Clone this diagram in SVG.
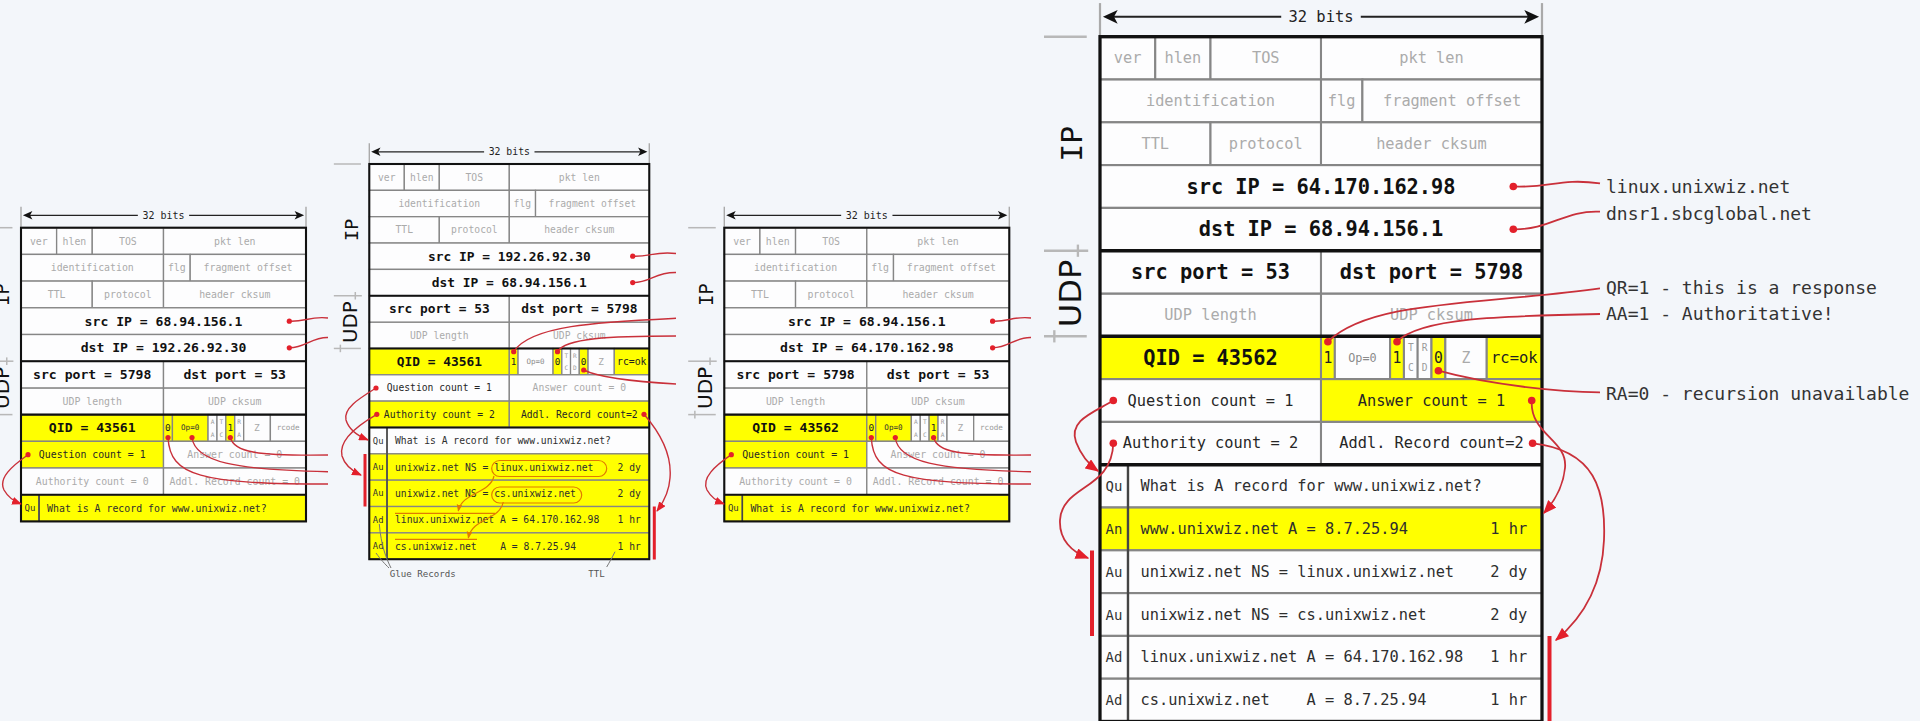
<svg xmlns="http://www.w3.org/2000/svg" width="1920" height="721" viewBox="0 0 1920 721">
<style>
text{font-family:"DejaVu Sans Mono","Liberation Mono",monospace}
.w{fill:#fdfdfe;stroke:#868686;stroke-width:1.4}
.y{fill:#ffff00;stroke:#868686;stroke-width:1.4}
.k{fill:none;stroke:#111;stroke-width:2.2}
.dv{stroke:#444;stroke-width:1.6}
.g{fill:#ababab;font-size:10.4px;text-anchor:middle;dominant-baseline:central}
.d{fill:#262626;font-size:10.4px;text-anchor:middle;dominant-baseline:central}
.l{fill:#2e2e2e;font-size:10.4px;dominant-baseline:central}
.r{fill:#2e2e2e;font-size:10.4px;text-anchor:end;dominant-baseline:central}
.b{fill:#111;font-size:13.8px;font-weight:bold;text-anchor:middle;dominant-baseline:central}
.lab{fill:#333;font-size:9.5px;text-anchor:middle;dominant-baseline:central}
.f{fill:#222;font-size:10px;text-anchor:middle;dominant-baseline:central}
.fo{fill:#333;font-size:8px;text-anchor:middle;dominant-baseline:central}
.fg{fill:#8a8a8a;font-size:8px;text-anchor:middle;dominant-baseline:central}
.tn{fill:#9a9a9a;font-size:6.5px;text-anchor:middle;dominant-baseline:central}
.z{fill:#aaa;font-size:10px;text-anchor:middle;dominant-baseline:central}
.rc{fill:#9a9a9a;font-size:8px;text-anchor:middle;dominant-baseline:central}
.ok{fill:#222;font-size:10.5px;text-anchor:middle;dominant-baseline:central}
.bits{fill:#222;font-size:10.5px;text-anchor:middle;dominant-baseline:central}
.tick{stroke:#aaa;stroke-width:1.5}
.arl{stroke:#222;stroke-width:1.3}
.side{stroke:#b8b8b8;stroke-width:1.6}
.sip{fill:#111;font-size:19.5px;text-anchor:middle;dominant-baseline:central}
.sudp{fill:#111;font-family:"DejaVu Sans",sans-serif;font-size:21px;text-anchor:middle;dominant-baseline:central}
.cn{fill:none;stroke:#c9303a;stroke-width:1.4}
.cnL{fill:none;stroke:#c9303a;stroke-width:1.8}
.dot{fill:#e3202b}
.bar{fill:#e3202b}
.or{fill:none;stroke:#e07b00;stroke-width:1.2}
.note{fill:#555;font-size:9.8px;dominant-baseline:central}
.gl{fill:none;stroke:#777;stroke-width:1}
.rt{fill:#333;font-size:18px}
</style>
<defs>
<marker id="ar" viewBox="0 0 10 8" refX="9" refY="4" markerWidth="10" markerHeight="8" markerUnits="userSpaceOnUse" orient="auto"><path d="M0,0 L10,4 L0,8 z" fill="#e3202b"/></marker>
<marker id="arL" viewBox="0 0 10 8" refX="9" refY="4" markerWidth="14" markerHeight="11" markerUnits="userSpaceOnUse" orient="auto"><path d="M0,0 L10,4 L0,8 z" fill="#e3202b"/></marker>
<marker id="ao" viewBox="0 0 10 8" refX="9" refY="4" markerWidth="7" markerHeight="6" markerUnits="userSpaceOnUse" orient="auto"><path d="M0,0 L10,4 L0,8 z" fill="#e07b00"/></marker>
<g id="hdr">
<line class="tick" x1="0" y1="-22" x2="0" y2="-1"/>
<line class="tick" x1="300" y1="-22" x2="300" y2="-1"/>
<line class="arl" x1="8" y1="-13" x2="123" y2="-13"/>
<line class="arl" x1="177" y1="-13" x2="292" y2="-13"/>
<path d="M2,-13 L12,-17.5 L9.5,-13 L12,-8.5 Z" fill="#111"/>
<path d="M298,-13 L288,-17.5 L290.5,-13 L288,-8.5 Z" fill="#111"/>
<text class="bits" x="150" y="-13">32 bits</text>
<line class="side" x1="-38" y1="0" x2="-9" y2="0"/>
<line class="side" x1="-38" y1="140" x2="-8" y2="140"/>
<line class="side" x1="-15" y1="136" x2="-15" y2="144"/>
<line class="side" x1="-38" y1="196" x2="-9" y2="196"/>
<line class="side" x1="-31" y1="192" x2="-31" y2="200"/>
<text class="sip" transform="translate(-19,70) rotate(-90)">IP</text>
<text class="sudp" transform="translate(-20,168) rotate(-90)">UDP</text>
<rect class="w" x="0" y="0" width="37.5" height="28"/>
<rect class="w" x="37.5" y="0" width="37.5" height="28"/>
<rect class="w" x="75" y="0" width="75" height="28"/>
<rect class="w" x="150" y="0" width="150" height="28"/>
<text class="g" x="18.75" y="14">ver</text>
<text class="g" x="56.25" y="14">hlen</text>
<text class="g" x="112.5" y="14">TOS</text>
<text class="g" x="225" y="14">pkt len</text>
<rect class="w" x="0" y="28" width="150" height="28"/>
<rect class="w" x="150" y="28" width="28.1" height="28"/>
<rect class="w" x="178.1" y="28" width="121.9" height="28"/>
<text class="g" x="75" y="42">identification</text>
<text class="g" x="164" y="42">flg</text>
<text class="g" x="239" y="42">fragment offset</text>
<rect class="w" x="0" y="56" width="75" height="28"/>
<rect class="w" x="75" y="56" width="75" height="28"/>
<rect class="w" x="150" y="56" width="150" height="28"/>
<text class="g" x="37.5" y="70">TTL</text>
<text class="g" x="112.5" y="70">protocol</text>
<text class="g" x="225" y="70">header cksum</text>
<rect class="w" x="0" y="168" width="150" height="28"/>
<rect class="w" x="150" y="168" width="150" height="28"/>
<text class="g" x="75" y="182">UDP length</text>
<text class="g" x="225" y="182">UDP cksum</text>
</g>
</defs>
<rect x="0" y="0" width="1920" height="721" fill="#f3f6fa"/>

<g id="pkt1" transform="translate(21,227.7) scale(0.95,0.9536)">
<use href="#hdr"/>
<rect class="w" x="0" y="84" width="300" height="28"/><text class="b" x="150" y="98">src IP = 68.94.156.1</text>
<rect class="w" x="0" y="112" width="300" height="28"/><text class="b" x="150" y="126">dst IP = 192.26.92.30</text>
<rect class="w" x="0" y="140" width="150" height="28"/><rect class="w" x="150" y="140" width="150" height="28"/>
<text class="b" x="75" y="154">src port = 5798</text><text class="b" x="225" y="154">dst port = 53</text>
<rect class="y" x="0" y="196" width="150" height="28"/><text class="b" x="75" y="210">QID = 43561</text>
<rect class="y" x="150" y="196" width="9.4" height="28"/><text class="f" x="154.7" y="210">0</text>
<rect class="y" x="159.4" y="196" width="37.5" height="28"/><text class="fo" x="178.1" y="210">Op=0</text>
<rect class="w" x="196.9" y="196" width="9.4" height="28"/><text class="tn" x="201.6" y="203.5">A</text><text class="tn" x="201.6" y="216.5">A</text>
<rect class="w" x="206.3" y="196" width="9.4" height="28"/><text class="tn" x="211" y="203.5">T</text><text class="tn" x="211" y="216.5">C</text>
<rect class="y" x="215.6" y="196" width="9.4" height="28"/><text class="f" x="220.3" y="210">1</text>
<rect class="w" x="225" y="196" width="9.4" height="28"/><text class="tn" x="229.7" y="203.5">R</text><text class="tn" x="229.7" y="216.5">A</text>
<rect class="w" x="234.4" y="196" width="28.1" height="28"/><text class="z" x="248.4" y="210">Z</text>
<rect class="w" x="262.5" y="196" width="37.5" height="28"/><text class="rc" x="281.2" y="210">rcode</text>
<rect class="y" x="0" y="224" width="150" height="28"/><text class="d" x="75" y="238">Question count = 1</text>
<rect class="w" x="150" y="224" width="150" height="28"/><text class="g" x="225" y="238">Answer count = 0</text>
<rect class="w" x="0" y="252" width="150" height="28"/><text class="g" x="75" y="266">Authority count = 0</text>
<rect class="w" x="150" y="252" width="150" height="28"/><text class="g" x="225" y="266">Addl. Record count = 0</text>
<rect class="y" x="0" y="280" width="19" height="28"/><text class="lab" x="9.5" y="294">Qu</text>
<rect class="y" x="19" y="280" width="281" height="28"/><text class="l" x="27.5" y="294">What is A record for www.unixwiz.net?</text>
<line class="dv" x1="19" y1="280" x2="19" y2="308"/>
<path class="k" d="M0,140H300M0,196H300M0,280H300"/>
<rect class="k" x="0" y="0" width="300" height="308"/>
</g>

<g id="pkt2" transform="translate(369.3,164) scale(0.9333,0.941)">
<use href="#hdr"/>
<rect class="w" x="0" y="84" width="300" height="28"/><text class="b" x="150" y="98">src IP = 192.26.92.30</text>
<rect class="w" x="0" y="112" width="300" height="28"/><text class="b" x="150" y="126">dst IP = 68.94.156.1</text>
<rect class="w" x="0" y="140" width="150" height="28"/><rect class="w" x="150" y="140" width="150" height="28"/>
<text class="b" x="75" y="154">src port = 53</text><text class="b" x="225" y="154">dst port = 5798</text>
<rect class="y" x="0" y="196" width="150" height="28"/><text class="b" x="75" y="210">QID = 43561</text>
<rect class="y" x="150" y="196" width="9.4" height="28"/><text class="f" x="154.7" y="210">1</text>
<rect class="w" x="159.4" y="196" width="37.5" height="28"/><text class="fg" x="178.1" y="210">Op=0</text>
<rect class="y" x="196.9" y="196" width="9.4" height="28"/><text class="f" x="201.6" y="210">0</text>
<rect class="w" x="206.3" y="196" width="9.4" height="28"/><text class="tn" x="211" y="203.5">T</text><text class="tn" x="211" y="216.5">C</text>
<rect class="w" x="215.6" y="196" width="9.4" height="28"/><text class="tn" x="220.3" y="203.5">R</text><text class="tn" x="220.3" y="216.5">D</text>
<rect class="y" x="225" y="196" width="9.4" height="28"/><text class="f" x="229.7" y="210">0</text>
<rect class="w" x="234.4" y="196" width="28.1" height="28"/><text class="z" x="248.4" y="210">Z</text>
<rect class="y" x="262.5" y="196" width="37.5" height="28"/><text class="ok" x="281.2" y="210">rc=ok</text>
<rect class="w" x="0" y="224" width="150" height="28"/><text class="d" x="75" y="238">Question count = 1</text>
<rect class="w" x="150" y="224" width="150" height="28"/><text class="g" x="225" y="238">Answer count = 0</text>
<rect class="y" x="0" y="252" width="150" height="28"/><text class="d" x="75" y="266">Authority count = 2</text>
<rect class="y" x="150" y="252" width="150" height="28"/><text class="d" x="225" y="266">Addl. Record count=2</text>
<rect class="w" x="0" y="280" width="19" height="28"/><text class="lab" x="9.5" y="294">Qu</text>
<rect class="w" x="19" y="280" width="281" height="28"/><text class="l" x="27.5" y="294">What is A record for www.unixwiz.net?</text>
<rect class="y" x="0" y="308" width="19" height="28"/><text class="lab" x="9.5" y="322">Au</text>
<rect class="y" x="19" y="308" width="281" height="28"/><text class="l" x="27.5" y="322">unixwiz.net NS = linux.unixwiz.net</text><text class="r" x="291" y="322">2 dy</text>
<rect class="y" x="0" y="336" width="19" height="28"/><text class="lab" x="9.5" y="350">Au</text>
<rect class="y" x="19" y="336" width="281" height="28"/><text class="l" x="27.5" y="350">unixwiz.net NS = cs.unixwiz.net</text><text class="r" x="291" y="350">2 dy</text>
<rect class="y" x="0" y="364" width="19" height="28"/><text class="lab" x="9.5" y="378">Ad</text>
<rect class="y" x="19" y="364" width="281" height="28"/><text class="l" x="27.5" y="378">linux.unixwiz.net A = 64.170.162.98</text><text class="r" x="291" y="378">1 hr</text>
<rect class="y" x="0" y="392" width="19" height="28"/><text class="lab" x="9.5" y="406">Ad</text>
<rect class="y" x="19" y="392" width="281" height="28"/><text class="l" x="27.5" y="406">cs.unixwiz.net</text><text class="l" x="140.2" y="406">A = 8.7.25.94</text><text class="r" x="291" y="406">1 hr</text>
<line class="dv" x1="19" y1="280" x2="19" y2="420"/>
<path class="k" d="M0,140H300M0,196H300M0,280H300"/>
<rect class="k" x="0" y="0" width="300" height="420"/>
<text class="note" x="22" y="435">Glue Records</text>
<text class="note" x="234.7" y="435">TTL</text>
</g>

<g id="pkt3" transform="translate(724.3,227.7) scale(0.95,0.9536)">
<use href="#hdr"/>
<rect class="w" x="0" y="84" width="300" height="28"/><text class="b" x="150" y="98">src IP = 68.94.156.1</text>
<rect class="w" x="0" y="112" width="300" height="28"/><text class="b" x="150" y="126">dst IP = 64.170.162.98</text>
<rect class="w" x="0" y="140" width="150" height="28"/><rect class="w" x="150" y="140" width="150" height="28"/>
<text class="b" x="75" y="154">src port = 5798</text><text class="b" x="225" y="154">dst port = 53</text>
<rect class="y" x="0" y="196" width="150" height="28"/><text class="b" x="75" y="210">QID = 43562</text>
<rect class="y" x="150" y="196" width="9.4" height="28"/><text class="f" x="154.7" y="210">0</text>
<rect class="y" x="159.4" y="196" width="37.5" height="28"/><text class="fo" x="178.1" y="210">Op=0</text>
<rect class="w" x="196.9" y="196" width="9.4" height="28"/><text class="tn" x="201.6" y="203.5">A</text><text class="tn" x="201.6" y="216.5">A</text>
<rect class="w" x="206.3" y="196" width="9.4" height="28"/><text class="tn" x="211" y="203.5">T</text><text class="tn" x="211" y="216.5">C</text>
<rect class="y" x="215.6" y="196" width="9.4" height="28"/><text class="f" x="220.3" y="210">1</text>
<rect class="w" x="225" y="196" width="9.4" height="28"/><text class="tn" x="229.7" y="203.5">R</text><text class="tn" x="229.7" y="216.5">A</text>
<rect class="w" x="234.4" y="196" width="28.1" height="28"/><text class="z" x="248.4" y="210">Z</text>
<rect class="w" x="262.5" y="196" width="37.5" height="28"/><text class="rc" x="281.2" y="210">rcode</text>
<rect class="y" x="0" y="224" width="150" height="28"/><text class="d" x="75" y="238">Question count = 1</text>
<rect class="w" x="150" y="224" width="150" height="28"/><text class="g" x="225" y="238">Answer count = 0</text>
<rect class="w" x="0" y="252" width="150" height="28"/><text class="g" x="75" y="266">Authority count = 0</text>
<rect class="w" x="150" y="252" width="150" height="28"/><text class="g" x="225" y="266">Addl. Record count = 0</text>
<rect class="y" x="0" y="280" width="19" height="28"/><text class="lab" x="9.5" y="294">Qu</text>
<rect class="y" x="19" y="280" width="281" height="28"/><text class="l" x="27.5" y="294">What is A record for www.unixwiz.net?</text>
<line class="dv" x1="19" y1="280" x2="19" y2="308"/>
<path class="k" d="M0,140H300M0,196H300M0,280H300"/>
<rect class="k" x="0" y="0" width="300" height="308"/>
</g>

<g id="pkt4" transform="translate(1100,36.7) scale(1.4733,1.5286)">
<use href="#hdr"/>
<rect class="w" x="0" y="84" width="300" height="28"/><text class="b" x="150" y="98">src IP = 64.170.162.98</text>
<rect class="w" x="0" y="112" width="300" height="28"/><text class="b" x="150" y="126">dst IP = 68.94.156.1</text>
<rect class="w" x="0" y="140" width="150" height="28"/><rect class="w" x="150" y="140" width="150" height="28"/>
<text class="b" x="75" y="154">src port = 53</text><text class="b" x="225" y="154">dst port = 5798</text>
<rect class="y" x="0" y="196" width="150" height="28"/><text class="b" x="75" y="210">QID = 43562</text>
<rect class="y" x="150" y="196" width="9.4" height="28"/><text class="f" x="154.7" y="210">1</text>
<rect class="w" x="159.4" y="196" width="37.5" height="28"/><text class="fg" x="178.1" y="210">Op=0</text>
<rect class="y" x="196.9" y="196" width="9.4" height="28"/><text class="f" x="201.6" y="210">1</text>
<rect class="w" x="206.3" y="196" width="9.4" height="28"/><text class="tn" x="211" y="203.5">T</text><text class="tn" x="211" y="216.5">C</text>
<rect class="w" x="215.6" y="196" width="9.4" height="28"/><text class="tn" x="220.3" y="203.5">R</text><text class="tn" x="220.3" y="216.5">D</text>
<rect class="y" x="225" y="196" width="9.4" height="28"/><text class="f" x="229.7" y="210">0</text>
<rect class="w" x="234.4" y="196" width="28.1" height="28"/><text class="z" x="248.4" y="210">Z</text>
<rect class="y" x="262.5" y="196" width="37.5" height="28"/><text class="ok" x="281.2" y="210">rc=ok</text>
<rect class="w" x="0" y="224" width="150" height="28"/><text class="d" x="75" y="238">Question count = 1</text>
<rect class="y" x="150" y="224" width="150" height="28"/><text class="d" x="225" y="238">Answer count = 1</text>
<rect class="w" x="0" y="252" width="150" height="28"/><text class="d" x="75" y="266">Authority count = 2</text>
<rect class="w" x="150" y="252" width="150" height="28"/><text class="d" x="225" y="266">Addl. Record count=2</text>
<rect class="w" x="0" y="280" width="19" height="28"/><text class="lab" x="9.5" y="294">Qu</text>
<rect class="w" x="19" y="280" width="281" height="28"/><text class="l" x="27.5" y="294">What is A record for www.unixwiz.net?</text>
<rect class="y" x="0" y="308" width="19" height="28"/><text class="lab" x="9.5" y="322">An</text>
<rect class="y" x="19" y="308" width="281" height="28"/><text class="l" x="27.5" y="322">www.unixwiz.net A = 8.7.25.94</text><text class="r" x="290" y="322">1 hr</text>
<rect class="w" x="0" y="336" width="19" height="28"/><text class="lab" x="9.5" y="350">Au</text>
<rect class="w" x="19" y="336" width="281" height="28"/><text class="l" x="27.5" y="350">unixwiz.net NS = linux.unixwiz.net</text><text class="r" x="290" y="350">2 dy</text>
<rect class="w" x="0" y="364" width="19" height="28"/><text class="lab" x="9.5" y="378">Au</text>
<rect class="w" x="19" y="364" width="281" height="28"/><text class="l" x="27.5" y="378">unixwiz.net NS = cs.unixwiz.net</text><text class="r" x="290" y="378">2 dy</text>
<rect class="w" x="0" y="392" width="19" height="28"/><text class="lab" x="9.5" y="406">Ad</text>
<rect class="w" x="19" y="392" width="281" height="28"/><text class="l" x="27.5" y="406">linux.unixwiz.net A = 64.170.162.98</text><text class="r" x="290" y="406">1 hr</text>
<rect class="w" x="0" y="420" width="19" height="28"/><text class="lab" x="9.5" y="434">Ad</text>
<rect class="w" x="19" y="420" width="281" height="28"/><text class="l" x="27.5" y="434">cs.unixwiz.net</text><text class="l" x="140.2" y="434">A = 8.7.25.94</text><text class="r" x="290" y="434">1 hr</text>
<line class="dv" x1="19" y1="280" x2="19" y2="448"/>
<path class="k" d="M0,140H300M0,196H300M0,280H300"/>
<rect class="k" x="0" y="0" width="300" height="448"/>
</g>

<g id="notes">
<text class="rt" x="1606" y="193">linux.unixwiz.net</text>
<text class="rt" x="1606" y="220">dnsr1.sbcglobal.net</text>
<text class="rt" x="1606" y="294">QR=1 - this is a response</text>
<text class="rt" x="1606" y="320">AA=1 - Authoritative!</text>
<text class="rt" x="1606" y="400">RA=0 - recursion unavailable</text>
</g>

<g id="connectors">
<path class="cn" d="M289.3,321.2 C305,322 310,316 328,318"/>
<path class="cn" d="M289.3,347.8 C305,348 312,337 328,337.5"/>
<path class="cn" d="M230.3,437.5 C234,452 255,456 328,455"/>
<path class="cn" d="M192,437.5 C195,462 235,470 328,471.7"/>
<path class="cn" d="M168,437.5 C170,476 200,484 328,484"/>
<path class="cn" marker-end="url(#ar)" d="M28,454.7 C12,466 -2,478 4,490 C8,497 13,501 21,504"/>
<circle class="dot" cx="289.3" cy="321.2" r="2.6"/><circle class="dot" cx="289.3" cy="347.8" r="2.6"/>
<circle class="dot" cx="168" cy="437.5" r="2.6"/><circle class="dot" cx="192" cy="437.5" r="2.6"/><circle class="dot" cx="230.3" cy="437.5" r="2.6"/>
<circle class="dot" cx="28" cy="454.7" r="2.6"/>

<path class="cn" d="M632.7,256.2 C650,257 655,251 676,253.5"/>
<path class="cn" d="M632.7,282.6 C650,283 655,272 676,272.5"/>
<path class="cn" d="M513.7,351.7 C530,325 600,322 676,318.3"/>
<path class="cn" d="M557.5,351.7 C565,338 610,336 676,336"/>
<path class="cn" d="M583.7,370 C600,378 640,382 676,384"/>
<path class="cn" marker-end="url(#ar)" d="M376,388 C360,398 343,408 346,420 C349,430 358,436 368,440"/>
<path class="cn" marker-end="url(#ar)" d="M376.8,414.3 C360,424 338,440 342,456 C345,466 352,471 361,475"/>
<path class="cn" marker-end="url(#ar)" d="M644,414.3 C662,435 672,455 670,478 C669,493 663,503 657,511"/>
<rect class="bar" x="363.5" y="454" width="3" height="52.5"/>
<rect class="bar" x="652.8" y="506.5" width="3" height="53"/>
<circle class="dot" cx="632.7" cy="256.2" r="2.6"/><circle class="dot" cx="632.7" cy="282.6" r="2.6"/>
<circle class="dot" cx="513.7" cy="351.7" r="2.6"/><circle class="dot" cx="557.5" cy="351.7" r="2.6"/><circle class="dot" cx="583.7" cy="370" r="2.6"/>
<circle class="dot" cx="376" cy="388" r="2.6"/><circle class="dot" cx="376.8" cy="414.3" r="2.6"/><circle class="dot" cx="644" cy="414.3" r="2.6"/>
<rect class="or" x="491.7" y="460.5" width="115" height="16" rx="8"/>
<rect class="or" x="491.7" y="487" width="90" height="16" rx="8"/>
<path class="or" d="M395,513.3 H495 M395,539.3 H477"/>
<path class="or" marker-end="url(#ao)" d="M494,476 C490,494 462,492 458.3,511"/>
<path class="or" marker-end="url(#ao)" d="M503.3,502 C500,520 472,518 468.3,538"/>
<path class="gl" d="M379.3,524 C381,545 386,558 391,568 M376,553 C381,560 385,564 389,568 M615,551.7 C612,558 609,563 606.7,567"/>

<path class="cn" d="M992.6,321.2 C1008,322 1013,316 1031,318"/>
<path class="cn" d="M992.6,347.8 C1008,348 1015,337 1031,337.5"/>
<path class="cn" d="M933.6,437.5 C937,452 958,456 1031,455"/>
<path class="cn" d="M895.3,437.5 C898,462 938,470 1031,471.7"/>
<path class="cn" d="M871.3,437.5 C873,476 903,484 1031,484"/>
<path class="cn" marker-end="url(#ar)" d="M731.3,454.7 C715,466 701,478 707,490 C711,497 716,501 724,504"/>
<circle class="dot" cx="992.6" cy="321.2" r="2.6"/><circle class="dot" cx="992.6" cy="347.8" r="2.6"/>
<circle class="dot" cx="871.3" cy="437.5" r="2.6"/><circle class="dot" cx="895.3" cy="437.5" r="2.6"/><circle class="dot" cx="933.6" cy="437.5" r="2.6"/>
<circle class="dot" cx="731.3" cy="454.7" r="2.6"/>

<path class="cnL" d="M1513.3,186.5 C1550,188 1560,178 1600,183.3"/>
<path class="cnL" d="M1513.3,229.3 C1550,230 1565,210 1600,211.7"/>
<path class="cnL" d="M1327.9,341.7 C1370,300 1480,305 1600,288.3"/>
<path class="cnL" d="M1397,341.7 C1420,318 1500,316 1600,314"/>
<path class="cnL" d="M1438.4,370.7 C1490,385 1560,392 1600,392.3"/>
<path class="cnL" marker-end="url(#arL)" d="M1531.7,400.5 C1530,435 1568,440 1565,468 C1563,488 1553,503 1544,513"/>
<path class="cnL" marker-end="url(#arL)" d="M1532.6,443.3 C1595,450 1606,490 1604,540 C1602,590 1580,620 1556,640"/>
<path class="cnL" marker-end="url(#arL)" d="M1113.3,400.5 C1095,412 1068,420 1076,442 C1081,455 1088,464 1098,471"/>
<path class="cnL" marker-end="url(#arL)" d="M1113.3,443.3 C1112,490 1062,485 1060,520 C1059,540 1072,552 1088,558"/>
<rect class="bar" x="1090" y="550.5" width="4" height="85.5"/>
<rect class="bar" x="1547.5" y="636" width="4" height="85"/>
<circle class="dot" cx="1513.3" cy="186.5" r="3.8"/><circle class="dot" cx="1513.3" cy="229.3" r="3.8"/>
<circle class="dot" cx="1327.9" cy="341.7" r="3.8"/><circle class="dot" cx="1397" cy="341.7" r="3.8"/><circle class="dot" cx="1438.4" cy="370.7" r="3.8"/>
<circle class="dot" cx="1113.3" cy="400.5" r="3.8"/><circle class="dot" cx="1113.3" cy="443.3" r="3.8"/>
<circle class="dot" cx="1531.7" cy="400.5" r="3.8"/><circle class="dot" cx="1532.6" cy="443.3" r="3.8"/>
</g>
</svg>
